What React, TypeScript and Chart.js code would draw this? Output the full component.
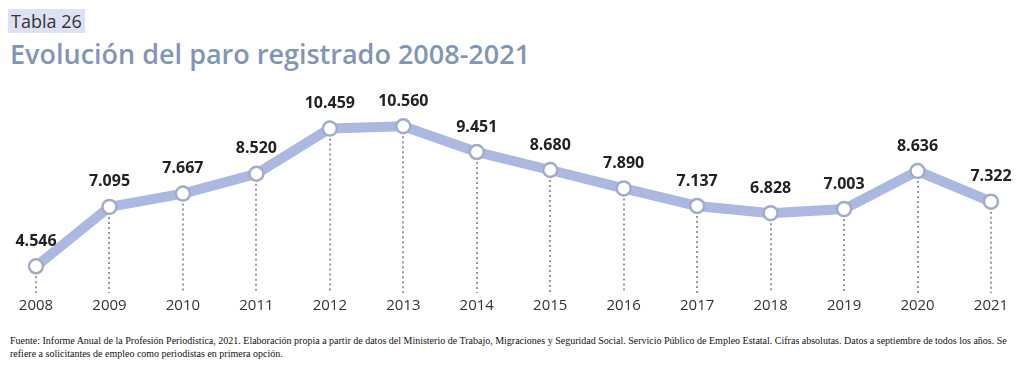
import React, { useEffect, useRef } from "react";
import { Chart, registerables } from "chart.js";

Chart.register(...registerables);

const years = ["2008","2009","2010","2011","2012","2013","2014","2015","2016","2017","2018","2019","2020","2021"];
const paro = [4546, 7095, 7667, 8520, 10459, 10560, 9451, 8680, 7890, 7137, 6828, 7003, 8636, 7322];
const paroLabels = ["4.546","7.095","7.667","8.520","10.459","10.560","9.451","8.680","7.890","7.137","6.828","7.003","8.636","7.322"];

const LINE = "#aab8e2";

const dropLines = {
  id: "dropLines",
  beforeDatasetsDraw(chart: any) {
    const { ctx, chartArea } = chart;
    const meta = chart.getDatasetMeta(0);
    ctx.save();
    ctx.strokeStyle = "#9a9a9a";
    ctx.lineWidth = 2;
    ctx.setLineDash([2, 3]);
    meta.data.forEach((p: any) => {
      ctx.beginPath();
      ctx.moveTo(Math.round(p.x), p.y);
      ctx.lineTo(Math.round(p.x), chartArea.bottom);
      ctx.stroke();
    });
    ctx.restore();
  },
};

const valueLabels = {
  id: "valueLabels",
  afterDatasetsDraw(chart: any) {
    const { ctx } = chart;
    const meta = chart.getDatasetMeta(0);
    ctx.save();
    ctx.font = "bold 16px 'Open Sans'";
    ctx.fillStyle = "#222222";
    ctx.textAlign = "center";
    ctx.textBaseline = "middle";
    meta.data.forEach((p: any, i: number) => {
      ctx.fillText(paroLabels[i], p.x, p.y - 25);
    });
    ctx.restore();
  },
};

export default function App() {
  const ref = useRef<HTMLCanvasElement>(null);
  useEffect(() => {
    document.body.style.margin = "0";
    const chart = new Chart(ref.current!, {
      type: "line",
      data: {
        labels: years,
        datasets: [
          {
            data: paro,
            borderColor: LINE,
            borderWidth: 10,
            pointRadius: 7,
            pointBorderWidth: 2.5,
            pointBorderColor: "#a3abc8",
            pointBackgroundColor: "#ffffff",
            tension: 0,
          },
        ],
      },
      options: {
        animation: false,
        responsive: false,
        maintainAspectRatio: false,
        layout: { padding: { left: 36, right: 33, top: 12, bottom: 2 } },
        plugins: { legend: { display: false }, tooltip: { enabled: false } },
        scales: {
          x: {
            offset: false,
            grid: { display: false, drawTicks: false },
            border: { display: false },
            ticks: { color: "#333333", font: { family: "'Open Sans'", size: 15 }, padding: 4, maxRotation: 0 },
            afterFit: (s: any) => { s.height = 27; },
          },
          y: { display: false, min: 3400, max: 11600 },
        },
      },
      plugins: [dropLines, valueLabels],
    });
    return () => chart.destroy();
  }, []);

  return (
    <div style={{ position: "relative", width: 1024, height: 374, background: "#fff", overflow: "hidden" }}>
      <div style={{ position: "absolute", left: 8, top: 9, height: 24, padding: "0 3px", background: "#dde2f3", fontFamily: "'Open Sans'", fontSize: 18, lineHeight: "24px", color: "#333" }}>
        Tabla 26
      </div>
      <div style={{ position: "absolute", left: 10, top: 36, fontFamily: "'Open Sans'", fontWeight: 600, fontSize: 27, lineHeight: "36px", color: "#7f96b8", whiteSpace: "nowrap" }}>
        Evolución del paro registrado 2008-2021
      </div>
      <canvas ref={ref} width={1024} height={232} style={{ position: "absolute", left: 0, top: 90, width: 1024, height: 232 }} />
      <div style={{ position: "absolute", left: 10, top: 335, fontFamily: "'Liberation Serif'", fontSize: 10, lineHeight: "12.5px", color: "#111", whiteSpace: "nowrap" }}>
        <div>Fuente: Informe Anual de la Profesión Periodística, 2021. Elaboración propia a partir de datos del Ministerio de Trabajo, Migraciones y Seguridad Social. Servicio Público de Empleo Estatal. Cifras absolutas. Datos a septiembre de todos los años. Se</div>
        <div>refiere a solicitantes de empleo como periodistas en primera opción.</div>
      </div>
    </div>
  );
}
